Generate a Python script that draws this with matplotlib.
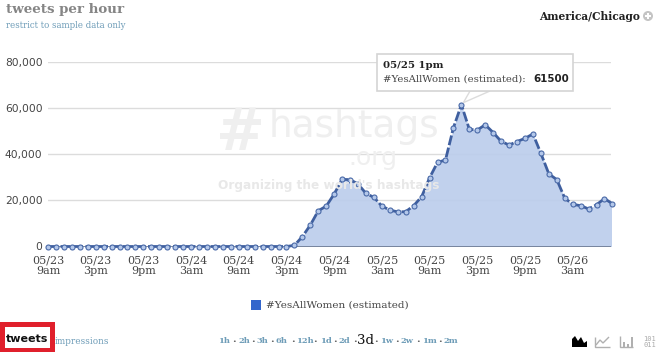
import matplotlib
matplotlib.use("Agg")
import matplotlib.pyplot as plt
from matplotlib.patches import Circle, Polygon, Rectangle
from matplotlib.ticker import FuncFormatter
from matplotlib.transforms import Affine2D

W, H = 658, 352

# tweets per hour, one value per hour from 05/23 9am
tweets = [
    0, 0, 0, 0, 0, 0, 0, 0, 0, 0,
    0, 0, 0, 0, 0, 0, 0, 0, 0, 0,
    0, 0, 0, 0, 0, 0, 0, 0, 0, 0,
    0, 500, 4300, 9300, 15500, 17500, 22800, 29100, 29000, 27100,
    23000, 21300, 17500, 15800, 15000, 15100, 17700, 21600, 29800, 36500,
    37500, 51500, 61500, 50800, 50500, 52800, 49400, 45600, 44000, 45500,
    46900, 48800, 40400, 31500, 29000, 21000, 18300, 17700, 16300, 18100,
    20800, 18500,
]
hours = list(range(len(tweets)))

tick_hours = [0, 6, 12, 18, 24, 30, 36, 42, 48, 54, 60, 66]
tick_labels = ["05/23\n9am", "05/23\n3pm", "05/23\n9pm", "05/24\n3am", "05/24\n9am", "05/24\n3pm",
               "05/24\n9pm", "05/25\n3am", "05/25\n9am", "05/25\n3pm", "05/25\n9pm", "05/26\n3am"]
y_ticks = [0, 20000, 40000, 60000, 80000]

ranges = ["1h", "2h", "3h", "6h", "12h", "1d", "2d", "3d", "1w", "2w", "1m", "2m"]
range_x = [224.5, 244, 262.5, 281.5, 304.5, 325.5, 344.5, 365.5, 386.5, 407, 429, 451]

SLAB = "DejaVu Serif"
LINK = "#6f9db8"
LINE = "#3f5f9f"

fig = plt.figure(figsize=(W / 100, H / 100), dpi=100)
# pixel coordinates of the reference, origin top left
px = Affine2D().scale(1 / W, -1 / H).translate(0, 1) + fig.transFigure


def label(x, y, s, **kw):
    kw.setdefault("va", "center")
    kw.setdefault("family", SLAB)
    fig.text(x, y, s, transform=px, **kw)


def shape(patch):
    patch.set_transform(px)
    fig.add_artist(patch)


ax = fig.add_axes([48 / W, (H - 246.5) / H, 563 / W, 184.5 / H])
ax.set_xlim(0, 70.82)
ax.set_ylim(0, 80000)
ax.patch.set_alpha(0)
for s in ax.spines.values():
    s.set_visible(False)

# watermark
label(241, 133, "#", fontsize=42, weight="bold", color="#efefef", ha="center", family="DejaVu Sans", zorder=0)
label(354, 127, "hashtags", fontsize=27, color="#efefef", ha="center", family="DejaVu Sans", zorder=0)
label(373, 158, ".org", fontsize=18, color="#efefef", ha="center", family="DejaVu Sans", zorder=0)
label(329, 186, "Organizing the world's hashtags", fontsize=8.7, weight="bold", color="#e8e8e8",
      ha="center", family="DejaVu Sans", zorder=0)

ax.grid(axis="y", color="#dcdcdc", linewidth=1)
ax.set_axisbelow(True)
ax.fill_between(hours, tweets, 0, color="#bccdec", linewidth=0, zorder=2, alpha=0.92)
ax.plot(hours, tweets, color=LINE, linewidth=2, linestyle=(0, (3.6, 0.9)), zorder=3, clip_on=False)
ax.plot(hours, tweets, linestyle="none", marker="o", markersize=3.6, markerfacecolor="#b4c8ea",
        markeredgecolor="#4a6aa8", markeredgewidth=0.8, zorder=4, clip_on=False)
ax.axhline(0, color="#6a7890", linewidth=1.2, zorder=2.5)

ax.set_xticks(tick_hours, tick_labels, family=SLAB, fontsize=8, color="#444444", linespacing=1.1)
ax.set_yticks(y_ticks)
ax.yaxis.set_major_formatter(FuncFormatter(lambda v, _: f"{int(v):,}"))
ax.tick_params(axis="both", length=0)
ax.tick_params(axis="x", pad=6.5)
ax.tick_params(axis="y", pad=4, labelsize=7.7, labelcolor="#444444")

# header
label(6, 10, "tweets per hour", fontsize=9.6, weight="bold", color="#858585")
label(6, 25, "restrict to sample data only", fontsize=6.2, color=LINK)
label(640, 17, "America/Chicago", fontsize=7.7, weight="bold", color="#222222", ha="right")
shape(Circle((648, 16), 5, facecolor="#c4c4c4", edgecolor="none"))
shape(Rectangle((645, 15.2), 6, 1.6, facecolor="white", edgecolor="none"))
shape(Rectangle((647.2, 13), 1.6, 6, facecolor="white", edgecolor="none"))

# tooltip, its pointer ends at the highest hour
peak = tweets.index(max(tweets))
tip_x, tip_y = ax.transData.transform((hours[peak], tweets[peak]))
shape(Polygon([(tip_x + 2, H - tip_y - 2), (470, 91), (490, 91)], closed=True, facecolor="white",
              edgecolor="#dcdcdc", linewidth=1, zorder=5))
shape(Rectangle((377, 54), 196, 37, facecolor="white", edgecolor="#d4d4d4", linewidth=1.2, zorder=6))
label(383, 65, "05/25 1pm", fontsize=7.3, weight="bold", color="#222222", zorder=7)
label(383, 79, "#YesAllWomen (estimated):", fontsize=7.3, color="#444444", zorder=7)
label(533, 79, "61500", fontsize=7.4, weight="bold", color="#222222", zorder=7, family="DejaVu Sans")

# legend
shape(Rectangle((251, 300), 10, 10, facecolor="#3366cc", edgecolor="none"))
label(266, 305, "#YesAllWomen (estimated)", fontsize=7.5, color="#444444")

# bottom row
shape(Rectangle((2, 323.5), 49.5, 26, facecolor="white", edgecolor="#e0202c", linewidth=3.6))
label(6, 339, "tweets", fontsize=8, weight="bold", color="#111111", family="DejaVu Sans")
label(55, 341, "impressions", fontsize=6.4, color=LINK)

for i, (r, x) in enumerate(zip(ranges, range_x)):
    current = r == "3d"
    label(x, 340 if current else 341, r, ha="center", fontsize=9.5 if current else 6,
          color="#111111" if current else LINK, weight="normal" if current else "bold")
    if i < len(ranges) - 1:
        label((x + range_x[i + 1]) / 2, 341, "•", ha="center", fontsize=4.5, color="#555555", family="DejaVu Sans")

# chart type icons
shape(Polygon([(572, 347), (572, 339), (575, 336), (578, 341), (581, 337), (584, 343), (587, 341), (587, 347)],
              closed=True, facecolor="black", edgecolor="none"))
shape(Polygon([(595, 337), (595, 347), (610, 347)], closed=False, fill=False, edgecolor="#b0b0b0", linewidth=1))
shape(Polygon([(596, 345), (600, 340), (603, 343), (609, 337)], closed=False, fill=False,
              edgecolor="#b0b0b0", linewidth=1))
shape(Polygon([(620, 336), (620, 347), (633, 347)], closed=False, fill=False, edgecolor="#b0b0b0", linewidth=1))
shape(Rectangle((623, 342), 2, 5, facecolor="#b0b0b0", edgecolor="none"))
shape(Rectangle((627, 344), 2, 3, facecolor="#b0b0b0", edgecolor="none"))
shape(Rectangle((631, 337), 2, 10, facecolor="#b0b0b0", edgecolor="none"))
label(650, 342, "101\n011", fontsize=5, color="#aaaaaa", ha="center", family="DejaVu Sans Mono", linespacing=0.9)

fig.savefig("out.png", dpi=100)
